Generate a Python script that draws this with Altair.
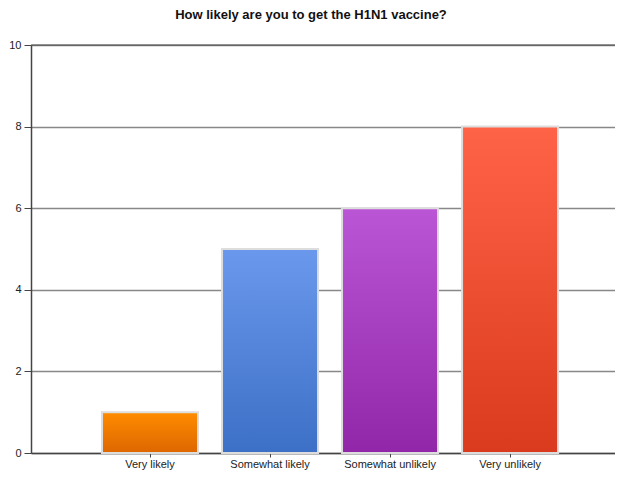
import altair as alt
import pandas as pd

categories = ["Very likely", "Somewhat likely", "Somewhat unlikely", "Very unlikely"]
counts = [1, 5, 6, 8]
top_colors = ["#FF8C00", "#6A98EC", "#BA56D6", "#FF6347"]
bottom_colors = ["#DD6600", "#3C70C6", "#9127A8", "#DA3A1E"]
y_ticks = [0, 2, 4, 6, 8, 10]

df = pd.DataFrame({"category": categories, "count": counts})

FONT = "Liberation Sans"

x_enc = alt.X(
    "category:N",
    sort=categories,
    scale=alt.Scale(domain=categories, paddingInner=0.2, paddingOuter=0.533, align=0.555),
    axis=alt.Axis(
        title=None, labelAngle=0, grid=False,
        domainColor="#444", domainWidth=1.5,
        tickColor="#444", tickSize=4, tickWidth=1,
        labelFont=FONT, labelFontSize=11, labelColor="#222", labelPadding=1,
    ),
)
y_axis = alt.Axis(
    title=None, values=y_ticks, grid=True,
    gridColor="#888", gridWidth=1.5,
    domainColor="#444", domainWidth=1.5,
    tickColor="#444", tickSize=7, tickWidth=1,
    labelFont=FONT, labelFontSize=11, labelColor="#222", labelPadding=3,
)
y_scale = alt.Scale(domain=[0, 10], nice=False)
y_enc = alt.Y("count:Q", scale=y_scale, axis=y_axis)

layers = []
for cat, top, bot in zip(categories, top_colors, bottom_colors):
    grad = alt.Gradient(
        gradient="linear",
        stops=[alt.GradientStop(color=top, offset=0), alt.GradientStop(color=bot, offset=1)],
        x1=0, x2=0, y1=0, y2=1,
    )
    layers.append(
        alt.Chart(df)
        .transform_filter(alt.datum.category == cat)
        .mark_bar(color=grad, stroke="#DDDDDD", strokeWidth=2)
        .encode(x=x_enc, y=y_enc)
    )

top_rule = (
    alt.Chart(pd.DataFrame({"count": [10]}))
    .mark_rule(color="#444", strokeWidth=1.2)
    .encode(y=y_enc)
)

chart = (
    alt.layer(*layers, top_rule)
    .properties(
        width=584,
        height=408,
        autosize=alt.AutoSizeParams(type="none"),
        padding={"left": 23, "top": 37, "right": 0, "bottom": 17},
        title=alt.TitleParams(
            "How likely are you to get the H1N1 vaccine?",
            font=FONT, fontSize=13, fontWeight="bold", color="#111",
            anchor="middle", dx=-12, offset=17,
        ),
    )
    .configure_view(stroke=None)
)

chart.save("out.html", embed_options={"renderer": "svg", "actions": False})
